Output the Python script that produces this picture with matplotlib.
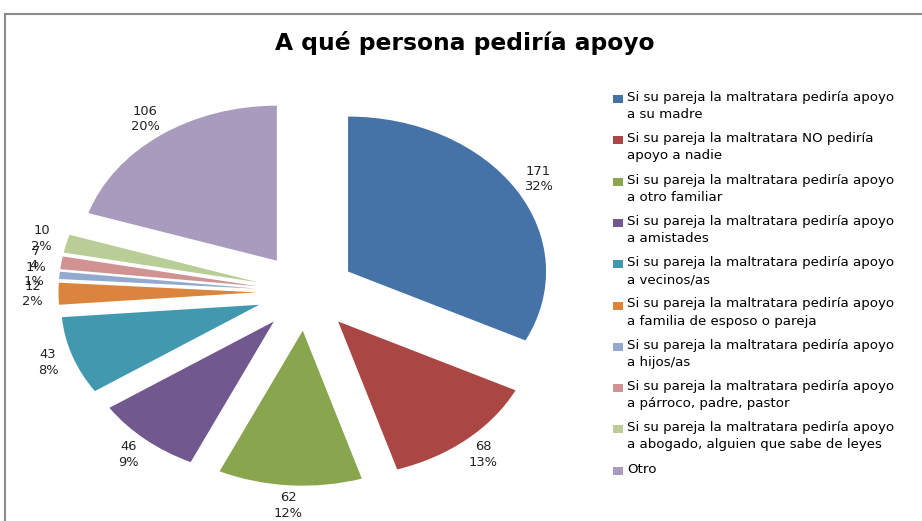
# Pie chart: A qué persona pediría apoyo

import matplotlib
matplotlib.use("Agg")
import matplotlib.pyplot as plt
from matplotlib.lines import Line2D
from matplotlib.patches import Rectangle

# Data
categories = [
    "Si su pareja la maltratara pediría apoyo\na su madre",
    "Si su pareja la maltratara NO pediría\napoyo a nadie",
    "Si su pareja la maltratara pediría apoyo\na otro familiar",
    "Si su pareja la maltratara pediría apoyo\na amistades",
    "Si su pareja la maltratara pediría apoyo\na vecinos/as",
    "Si su pareja la maltratara pediría apoyo\na familia de esposo o pareja",
    "Si su pareja la maltratara pediría apoyo\na hijos/as",
    "Si su pareja la maltratara pediría apoyo\na párroco, padre, pastor",
    "Si su pareja la maltratara pediría apoyo\na abogado, alguien que sabe de leyes",
    "Otro",
]
values = [171, 68, 62, 46, 43, 12, 4, 7, 10, 106]
colors = ["#4572A7", "#AA4643", "#89A54E", "#71588F", "#4198AF",
          "#DB843D", "#93A9CF", "#D19392", "#B9CD96", "#A99BBD"]
title = "A qué persona pediría apoyo"

W, H = 922, 521
total = sum(values)
labels = ["%d\n%d%%" % (v, round(v * 100.0 / total)) for v in values]

fig = plt.figure(figsize=(W / 100, H / 100), dpi=100)
fig.patch.set_facecolor("white")

# pie: centre (306, 292) px, radii 198 px wide, 155 px high (stretched)
cx, cy, rx, ry = 306, 292, 198, 155
ax = fig.add_axes([0, 0, 1, 1])
ax.pie(values, colors=colors, labels=labels, explode=[0.25] * len(values),
       startangle=90, counterclock=False, labeldistance=1.13,
       textprops={"ha": "center", "va": "center", "fontsize": 9.4,
                  "color": "#222222", "linespacing": 1.25})
ax.set_aspect("auto")
ax.set_xlim(-cx / rx, (W - cx) / rx)
ax.set_ylim((cy - H) / ry, cy / ry)
ax.axis("off")

# chart border (top and left edges visible)
fig.add_artist(Line2D([5 / W, 5 / W], [0, 1 - 14 / H], color="#8c8c8c",
                      lw=1.5, transform=fig.transFigure))
fig.add_artist(Line2D([5 / W, 1], [1 - 14 / H, 1 - 14 / H], color="#8c8c8c",
                      lw=1.5, transform=fig.transFigure))

fig.text(465 / W, 1 - 43 / H, title, ha="center", va="center",
         fontsize=16.8, fontweight="bold")

# legend drawn by hand so the square sits on the first line
for i, (lab, col) in enumerate(zip(categories, colors)):
    y = 99 + i * 41.3
    fig.add_artist(Rectangle((613 / W, 1 - (y + 4) / H), 10 / W, 8 / H,
                             facecolor=col, edgecolor="none",
                             transform=fig.transFigure))
    fig.text(627 / W, 1 - (y - 8) / H, lab, ha="left", va="top",
             fontsize=9.6, linespacing=1.4)

fig.savefig("out.png", dpi=100)
